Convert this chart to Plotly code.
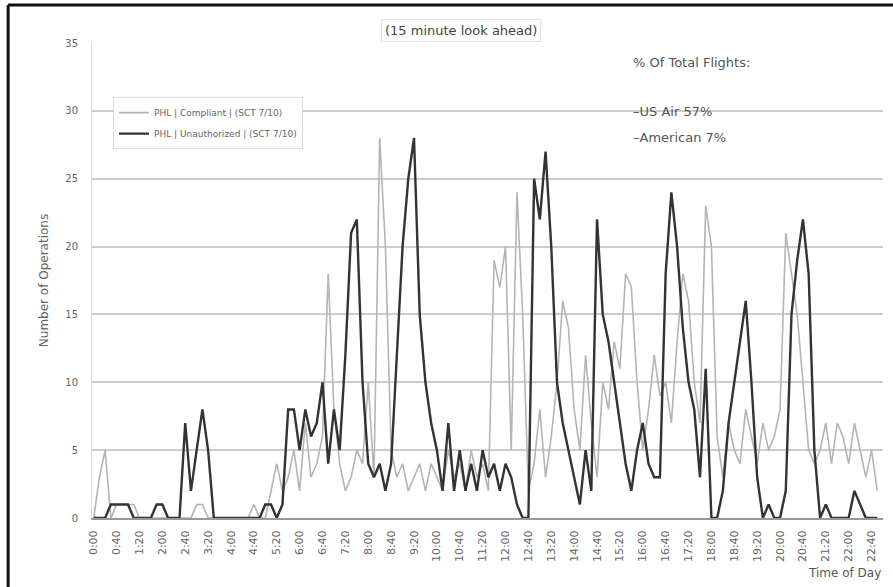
import plotly.graph_objects as go

# 10-minute categories from 0:00 to 22:50
times = [f"{m // 60}:{m % 60:02d}" for m in range(0, 1380, 10)]
tick_labels = times[::4]

compliant = [0, 3, 5, 0, 1, 1, 1, 1, 0, 0,
             0, 0, 0, 0, 0, 0, 0, 0, 1, 1,
             0, 0, 0, 0, 0, 0, 0, 0, 1, 0,
             0, 2, 4, 2, 3, 5, 2, 7, 3, 4,
             6, 18, 8, 4, 2, 3, 5, 4, 10, 3,
             28, 20, 5, 3, 4, 2, 3, 4, 2, 4,
             3, 2, 5, 3, 4, 2, 5, 3, 4, 2,
             19, 17, 20, 5, 24, 15, 2, 4, 8, 3,
             6, 10, 16, 14, 8, 5, 12, 7, 3, 10,
             8, 13, 11, 18, 17, 10, 5, 8, 12, 9,
             10, 7, 13, 18, 16, 10, 7, 23, 20, 6,
             3, 7, 5, 4, 8, 6, 4, 7, 5, 6,
             8, 21, 18, 15, 10, 5, 4, 5, 7, 4,
             7, 6, 4, 7, 5, 3, 5, 2]

unauthorized = [0, 0, 0, 1, 1, 1, 1, 0, 0, 0,
                0, 1, 1, 0, 0, 0, 7, 2, 5, 8,
                5, 0, 0, 0, 0, 0, 0, 0, 0, 0,
                1, 1, 0, 1, 8, 8, 5, 8, 6, 7,
                10, 4, 8, 5, 12, 21, 22, 10, 4, 3,
                4, 2, 4, 12, 20, 25, 28, 15, 10, 7,
                5, 2, 7, 2, 5, 2, 4, 2, 5, 3,
                4, 2, 4, 3, 1, 0, 0, 25, 22, 27,
                20, 10, 7, 5, 3, 1, 5, 2, 22, 15,
                13, 10, 7, 4, 2, 5, 7, 4, 3, 3,
                18, 24, 20, 14, 10, 8, 3, 11, 0, 0,
                2, 7, 10, 13, 16, 10, 3, 0, 1, 0,
                0, 2, 15, 19, 22, 18, 5, 0, 1, 0,
                0, 0, 0, 2, 1, 0, 0, 0]

names = ["PHL | Compliant | (SCT 7/10)", "PHL | Unauthorized | (SCT 7/10)"]
y_ticks = [0, 5, 10, 15, 20, 25, 30, 35]
note_lines = ["% Of Total Flights:", "–US Air 57%", "–American 7%"]

FONT = "DejaVu Sans, Verdana, sans-serif"

fig = go.Figure()
fig.add_trace(go.Scatter(x=times, y=compliant, mode="lines", name=names[0],
                         legendgroup="a",
                         line=dict(color="#b4b4b4", width=1.6)))
fig.add_trace(go.Scatter(x=times, y=unauthorized, mode="lines", name=names[1],
                         legendgroup="b",
                         line=dict(color="#333333", width=2.4)))

annotations = [
    dict(text="(15 minute look ahead)", xref="paper", yref="paper",
         x=0.467, y=1.027, xanchor="center", yanchor="middle", showarrow=False,
         bgcolor="white", bordercolor="#e2e2e2", borderwidth=1, borderpad=3,
         font=dict(size=13, color="#444444")),
    dict(text="Time of Day", xref="paper", yref="paper", x=1.0, y=-0.116,
         xanchor="right", yanchor="middle", showarrow=False,
         font=dict(size=12, color="#555555")),
]
for txt, yy in zip(note_lines, [0.958, 0.855, 0.802]):
    annotations.append(dict(text=txt, xref="paper", yref="paper", x=0.682, y=yy,
                            xanchor="left", yanchor="middle", showarrow=False,
                            font=dict(size=13, color="#555555")))

fig.update_layout(
    width=893, height=587,
    margin=dict(l=92, r=10, t=43, b=69),
    paper_bgcolor="white", plot_bgcolor="white",
    font=dict(family=FONT, size=9, color="#555555"),
    showlegend=True,
    legend=dict(x=0.0265, y=0.886, xanchor="left", yanchor="top",
                bgcolor="white", bordercolor="#dcdcdc", borderwidth=1,
                font=dict(size=9, color="#666666"), tracegroupgap=2),
    xaxis=dict(type="category", range=[-0.3, 138],
               tickmode="array", tickvals=tick_labels, ticktext=tick_labels,
               tickangle=-90, showgrid=False, showline=True, linecolor="#999999",
               linewidth=2, ticks="", ticklabelstandoff=6,
               tickfont=dict(size=11, color="#666666")),
    yaxis=dict(range=[0, 35], tickvals=y_ticks, showgrid=True, gridcolor="#cccccc",
               gridwidth=1.5, zeroline=False, showline=True, linecolor="#dddddd",
               ticks="", ticklabelstandoff=11,
               tickfont=dict(size=10, color="#666666"),
               title=dict(text="Number of Operations", font=dict(size=12, color="#666666"),
                          standoff=14)),
    annotations=annotations,
    shapes=[
        dict(type="rect", xref="paper", yref="paper", x0=0.672, x1=0.887,
             y0=0.78, y1=0.94, layer="between", fillcolor="white",
             line=dict(width=0)),
        dict(type="line", xref="paper", yref="paper", x0=-0.106, x1=1.02,
             y0=1.08, y1=1.08, line=dict(color="#111111", width=3)),
        dict(type="line", xref="paper", yref="paper", x0=-0.106, x1=-0.106,
             y0=1.08, y1=-0.16, line=dict(color="#111111", width=3)),
    ],
)

fig.write_html("out.html",
               config={"displayModeBar": False},
               post_script="document.body.style.margin='0';"
                           "document.body.style.overflow='hidden';")
